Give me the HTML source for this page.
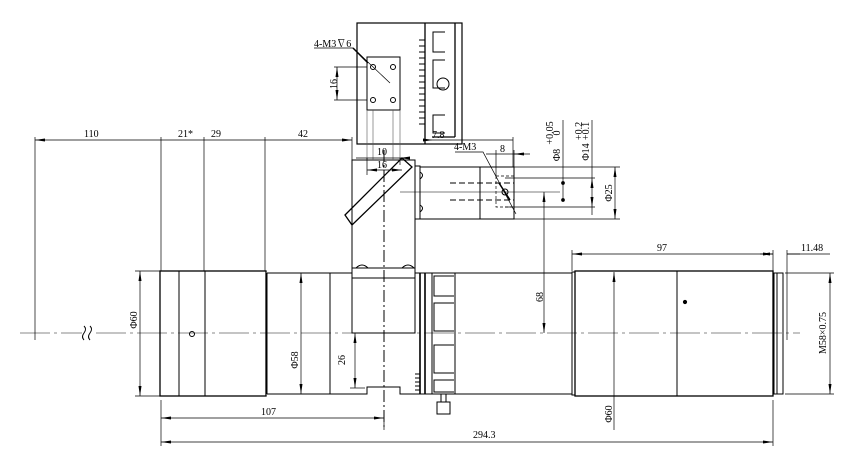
<!DOCTYPE html>
<html><head><meta charset="utf-8"><style>
html,body{margin:0;padding:0;background:#fff;}
svg{display:block;}
text{font-family:"Liberation Serif","Noto Serif CJK SC",serif;font-size:10px;fill:#000;}
</style></head><body>
<svg width="858" height="458" viewBox="0 0 858 458" xmlns="http://www.w3.org/2000/svg">
<defs>
<marker id="a" viewBox="0 0 10 4" refX="10" refY="2" markerWidth="10" markerHeight="4" orient="auto-start-reverse" markerUnits="userSpaceOnUse"><path d="M0,0.5L10,2L0,3.5z" fill="#000"/></marker>
</defs>
<g fill="none" stroke="#000" stroke-width="1">
<path d="M20,333H82M96,333H800" stroke="#888" stroke-dasharray="30,4,3,4"/>
<path d="M84,326q3,3 0,7q-3,4 0,7M90,326q3,3 0,7q-3,4 0,7"/>
<rect x="160" y="271" width="106" height="125" stroke-width="1.3"/>
<path d="M179,271V396M205,271V396M267,273V394"/>
<circle cx="192" cy="334" r="2.5"/>
<path d="M267,273H352M267,394H367V387H400V394H420M330,273V394"/>
<rect x="352" y="268" width="63" height="10"/>
<rect x="352" y="278" width="63" height="55"/>
<path d="M356,268q6,-6 12,0M402,268q6,-6 12,0"/>
<path d="M352,268V160H415V268"/>
<path d="M345,215L352,225L412,167L402,158Z" stroke-width="1.3"/>
<path d="M384,150V430" stroke-dasharray="12,3,2,3"/>
<rect x="415" y="166" width="5" height="53"/>
<path d="M420,172q5,3 0,7M420,205q5,3 0,7"/>
<rect x="420" y="167" width="60" height="52"/>
<rect x="480" y="167" width="34" height="52"/>
<path d="M450,183H514M450,200H514" stroke-dasharray="6,3"/>
<path d="M496,176H514V207H496Z" stroke-dasharray="3,2" stroke-width="0.7"/>
<circle cx="505" cy="192" r="3"/>
<path d="M400,192H560" stroke-width="0.6"/>
<rect x="357" y="23" width="105" height="121" stroke-width="1.2"/>
<path d="M425,23V144M455,23V137M432,137H455" stroke-width="1.3"/>
<rect x="367" y="57" width="33" height="53"/>
<circle cx="373" cy="67" r="2.5"/><circle cx="393" cy="67" r="2.5"/><circle cx="373" cy="100" r="2.5"/><circle cx="393" cy="100" r="2.5"/>
<path d="M445,32h-12v20h12M445,60h-12v28h12M445,115h-12v18h12"/>
<circle cx="443" cy="84" r="6"/>
<path d="M419,40h6M419,46h6M419,52h6M419,58h6M419,64h6M419,70h6M419,76h6M419,82h6M419,88h6M419,94h6M419,100h6M419,106h6M419,112h6M419,118h6M419,124h6"/>
<path d="M367,110V160M373,110V160M393,110V160M400,110V160" stroke-width="0.6" stroke="#555"/>
<path d="M415,273H455M415,394H455"/>
<path d="M420,273V394M425,273V394" stroke-width="1.6"/>
<rect x="432" y="273" width="23" height="121"/>
<path d="M454,276h-20v20h20M454,303h-20v28h20M454,345h-20v28h20M454,380h-20v12h20"/>
<path d="M420,374h-5M420,378h-5M420,382h-5M420,386h-5M420,390h-5"/>
<rect x="437" y="402" width="13" height="12"/>
<path d="M441,394v8M446,394v8"/>
<path d="M455,273H572M455,394H572"/>
<rect x="572" y="272" width="3" height="123"/>
<rect x="575" y="271" width="198" height="125" stroke-width="1.3"/>
<path d="M677,271V396"/>
<circle cx="685" cy="302" r="1.6" fill="#000"/>
<rect x="774" y="273" width="9" height="121"/>
<path d="M777,273V394"/>
</g>
<g fill="none" stroke="#000" stroke-width="0.7">
<path d="M35,137V340M161,137V271M204,137V271M265,137V271M352,137V160"/>
<path d="M35,140H161M161,140H204M204,140H265M265,140H352" marker-start="url(#a)" marker-end="url(#a)"/>
<path d="M161,400V446M773,400V446M384,420V430"/>
<path d="M161,418H384" marker-start="url(#a)" marker-end="url(#a)"/>
<path d="M161,442H773" marker-start="url(#a)" marker-end="url(#a)"/>
<path d="M572,250V271M773,250V271M787,250V340"/>
<path d="M572,254H773" marker-start="url(#a)" marker-end="url(#a)"/>
<path d="M787,254H800M773,254H760" marker-end="url(#a)"/>
<path d="M787,254H830"/>
<path d="M785,273H834M785,394H834"/>
<path d="M830,273V394" marker-start="url(#a)" marker-end="url(#a)"/>
<path d="M135,271H160M135,396H160"/>
<path d="M140,271V396" marker-start="url(#a)" marker-end="url(#a)"/>
<path d="M301,273V394" marker-start="url(#a)" marker-end="url(#a)"/>
<path d="M614,272V430" marker-start="url(#a)"/>
<path d="M350,388H365"/>
<path d="M355,333V388" marker-start="url(#a)" marker-end="url(#a)"/>
<path d="M544,192V333" marker-start="url(#a)" marker-end="url(#a)"/>
<path d="M514,167H620M514,219H620M505,178H595M505,207H595"/>
<path d="M615,167V219" marker-start="url(#a)" marker-end="url(#a)"/>
<path d="M592,120V178M592,207V215"/>
<path d="M592,178V207" marker-start="url(#a)" marker-end="url(#a)"/>
<path d="M563,120V200"/>
<circle cx="563" cy="183" r="1.5" fill="#000"/><circle cx="563" cy="200" r="1.5" fill="#000"/>
<path d="M496,150V176M514,150V167"/>
<path d="M486,154H496M524,154H514" marker-end="url(#a)"/>
<path d="M496,154H530"/>
<path d="M433,140H513"/>
<path d="M425,140H433" marker-end="url(#a)"/>
<path d="M513,137V167"/>
<path d="M364,158H400M367,158V175M400,158V165"/>
<path d="M356,158H364M410,158H400" marker-end="url(#a)"/>
<path d="M367,170H402" marker-start="url(#a)" marker-end="url(#a)"/>
<path d="M334,67H367M334,100H367"/>
<path d="M337,67V100" marker-start="url(#a)" marker-end="url(#a)"/>
<path d="M314,48H353L390,83"/>
<path d="M353,48L368,63" stroke-width="1.5"/>
<path d="M455,152H483L516,214"/>
<path d="M499,183L510,200" stroke-width="1.5"/>
</g>
<g>
<text x="84" y="137">110</text>
<text x="178" y="137">21*</text>
<text x="211" y="137">29</text>
<text x="298" y="137">42</text>
<text x="261" y="415">107</text>
<text x="473" y="438">294.3</text>
<text x="657" y="251">97</text>
<text x="801" y="251">11.48</text>
<text x="432" y="138">7.8</text>
<text x="454" y="150">4-M3</text>
<text x="500" y="152">8</text>
<text x="377" y="155">10</text>
<text x="377" y="168">16</text>
<text x="314" y="47">4-M3∇6</text>
<text transform="translate(826,333) rotate(-90)" text-anchor="middle" font-size="9">M58×0.75</text>
<text transform="translate(137,320) rotate(-90)" text-anchor="middle" font-size="9">Φ60</text>
<text transform="translate(298,360) rotate(-90)" text-anchor="middle" font-size="9">Φ58</text>
<text transform="translate(612,414) rotate(-90)" text-anchor="middle" font-size="9">Φ60</text>
<text transform="translate(345,360) rotate(-90)" text-anchor="middle">26</text>
<text transform="translate(543,297) rotate(-90)" text-anchor="middle">68</text>
<text transform="translate(612,193) rotate(-90)" text-anchor="middle">Φ25</text>
<text transform="translate(337,84) rotate(-90)" text-anchor="middle">16</text>
<text transform="translate(560,155) rotate(-90)" text-anchor="middle">Φ8</text>
<text transform="translate(553,133) rotate(-90)" text-anchor="middle" font-size="7">+0.05</text>
<text transform="translate(560,133) rotate(-90)" text-anchor="middle" font-size="7">0</text>
<text transform="translate(589,152) rotate(-90)" text-anchor="middle">Φ14</text>
<text transform="translate(582,131) rotate(-90)" text-anchor="middle" font-size="7">+0.2</text>
<text transform="translate(589,131) rotate(-90)" text-anchor="middle" font-size="7">+0.1</text>
</g>
</svg>
</body></html>
